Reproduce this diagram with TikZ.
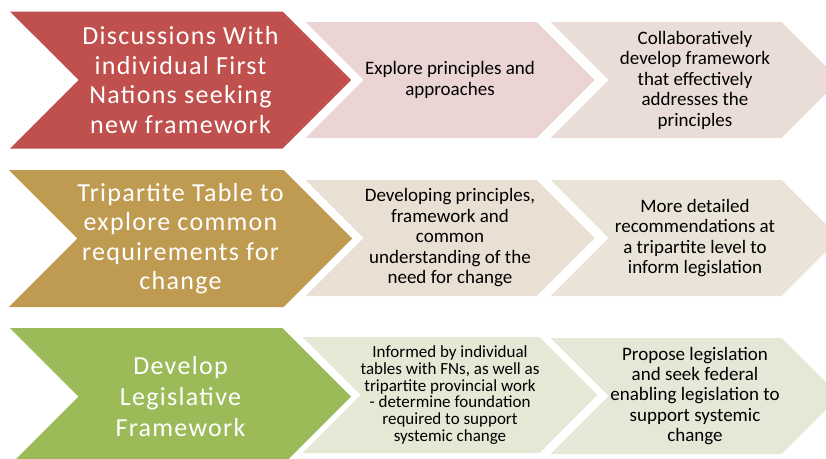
\documentclass[tikz,border=0pt]{standalone}
\usepackage{fontspec}
\setmainfont{Carlito}
\newfontfamily\headfont[LetterSpace=5]{Carlito}
\usetikzlibrary{shapes.symbols}
\definecolor{redhead}{HTML}{C0504D}
\definecolor{goldhead}{HTML}{BF9B52}
\definecolor{greenhead}{HTML}{9BBB59}
\definecolor{redpaleA}{HTML}{EAD4D4}
\definecolor{redpaleB}{HTML}{EADDD8}
\definecolor{goldpaleA}{HTML}{E9DFD3}
\definecolor{goldpaleB}{HTML}{E9E4D7}
\definecolor{greenpaleA}{HTML}{E4E8D4}
\definecolor{greenpaleB}{HTML}{E3E8D7}
\tikzset{chevron/.style={signal,signal from=west,signal to=east,
           signal pointer angle=90,draw=none,inner sep=0pt,align=center},
         headarrow/.style={chevron,minimum width=341pt,minimum height=137pt,
           text=white,font=\headfont\fontsize{26}{29.5}\selectfont},
         steparrow/.style={chevron,minimum width=289pt,minimum height=116pt,
           font=\fontsize{19}{20.5}\selectfont}}

\begin{document}
\begin{tikzpicture}[x=1pt,y=-1pt]
      \clip (0,0) rectangle (826,458);
      % first row
      \node[headarrow,fill=redhead] (disc) at (180.5,80)
            {Discussions With\\individual First\\Nations seeking\\new framework};
      \node[steparrow,fill=redpaleA] (explore) at (450,80)
            {Explore principles and\\approaches};
      \node[steparrow,fill=redpaleB] (collab) at (695,80)
            {Collaboratively\\develop framework\\that effectively\\addresses the\\principles};
      % second row
      \node[headarrow,fill=goldhead] (table) at (180.5,238.5)
            {Tripartite Table to\\explore common\\requirements for\\change};
      \node[steparrow,fill=goldpaleA] (develop) at (450,238)
            {Developing principles,\\framework and\\common\\understanding of the\\need for change};
      \node[steparrow,fill=goldpaleB] (detail) at (695,238)
            {More detailed\\recommendations at\\a tripartite level to\\inform legislation};
      % third row
      \node[headarrow,fill=greenhead,font=\headfont\fontsize{26}{31}\selectfont] (legis) at (180.5,396.5)
            {Develop\\Legislative\\Framework};
      \node[steparrow,fill=greenpaleA,font=\fontsize{17}{16.8}\selectfont] (inform) at (450,395)
            {Informed by individual\\tables with FNs, as well as\\tripartite provincial work\\- determine foundation\\required to support\\systemic change};
      \node[steparrow,fill=greenpaleB,font=\fontsize{19}{20.2}\selectfont] (propose) at (695,396)
            {Propose legislation\\and seek federal\\enabling legislation to\\support systemic\\change};
    \end{tikzpicture}
\end{document}
